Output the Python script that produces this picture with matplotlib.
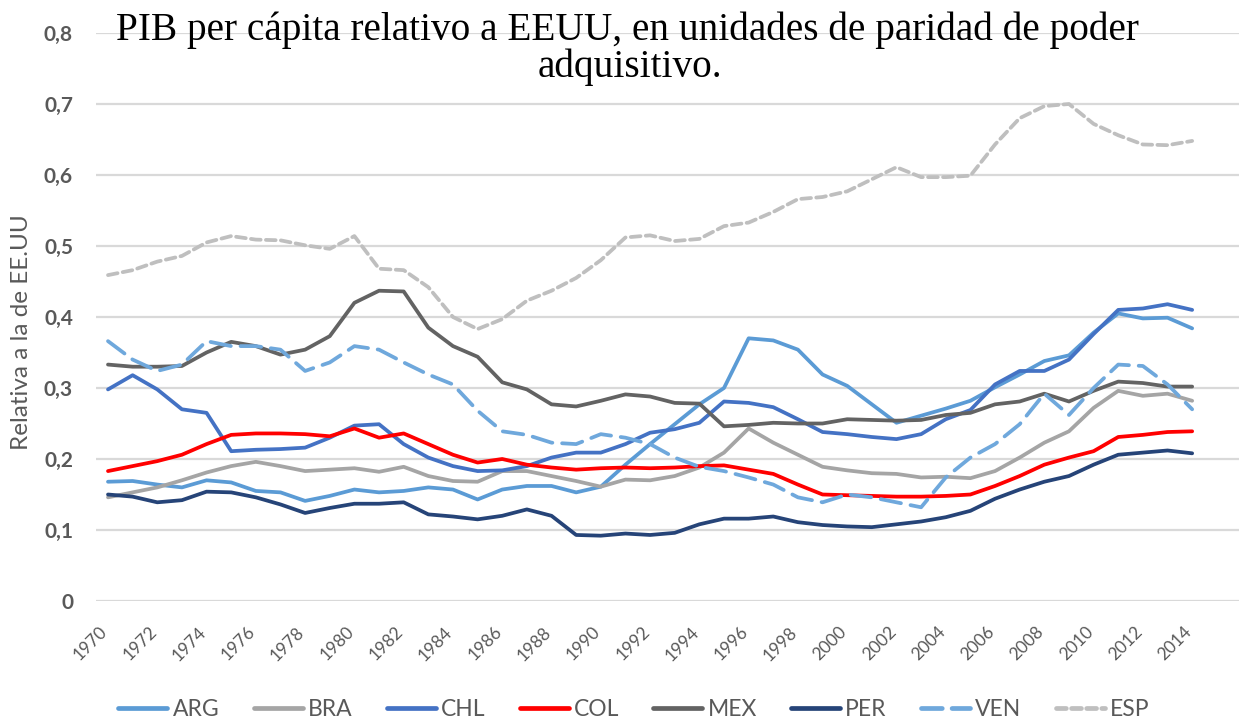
import matplotlib
matplotlib.use("Agg")
import matplotlib.pyplot as plt
import matplotlib.transforms as mtransforms
from matplotlib.lines import Line2D

years = list(range(1970, 2015))

ARG = [0.168, 0.169, 0.164, 0.160, 0.170, 0.167, 0.155, 0.153, 0.141, 0.148,
       0.157, 0.153, 0.155, 0.160, 0.157, 0.143, 0.157, 0.162, 0.162, 0.153,
       0.161, 0.192, 0.221, 0.249, 0.277, 0.300, 0.370, 0.367, 0.354, 0.319,
       0.303, 0.277, 0.251, 0.261, 0.271, 0.282, 0.301, 0.319, 0.338, 0.346,
       0.378, 0.405, 0.398, 0.399, 0.384]
BRA = [0.146, 0.153, 0.160, 0.170, 0.181, 0.190, 0.196, 0.190, 0.183, 0.185,
       0.187, 0.182, 0.189, 0.176, 0.169, 0.168, 0.183, 0.183, 0.176, 0.169,
       0.161, 0.171, 0.170, 0.176, 0.188, 0.209, 0.243, 0.223, 0.206, 0.189,
       0.184, 0.180, 0.179, 0.174, 0.175, 0.173, 0.183, 0.202, 0.223, 0.239,
       0.272, 0.296, 0.289, 0.292, 0.282]
CHL = [0.298, 0.318, 0.298, 0.270, 0.265, 0.211, 0.213, 0.214, 0.216, 0.230,
       0.247, 0.249, 0.221, 0.202, 0.190, 0.183, 0.184, 0.190, 0.202, 0.209,
       0.209, 0.221, 0.237, 0.242, 0.251, 0.281, 0.279, 0.273, 0.256, 0.238,
       0.235, 0.231, 0.228, 0.235, 0.256, 0.269, 0.305, 0.324, 0.324, 0.340,
       0.376, 0.410, 0.412, 0.418, 0.410]
COL = [0.183, 0.190, 0.197, 0.206, 0.221, 0.234, 0.236, 0.236, 0.235, 0.232,
       0.243, 0.230, 0.236, 0.221, 0.206, 0.195, 0.200, 0.192, 0.188, 0.185,
       0.187, 0.188, 0.187, 0.188, 0.190, 0.191, 0.185, 0.179, 0.164, 0.150,
       0.149, 0.148, 0.147, 0.147, 0.148, 0.150, 0.162, 0.176, 0.192, 0.202,
       0.211, 0.231, 0.234, 0.238, 0.239]
MEX = [0.333, 0.330, 0.330, 0.331, 0.350, 0.365, 0.359, 0.347, 0.354, 0.373,
       0.420, 0.437, 0.436, 0.385, 0.359, 0.344, 0.308, 0.298, 0.277, 0.274,
       0.282, 0.291, 0.288, 0.279, 0.278, 0.246, 0.248, 0.251, 0.250, 0.250,
       0.256, 0.255, 0.254, 0.255, 0.262, 0.265, 0.277, 0.281, 0.292, 0.281,
       0.296, 0.309, 0.307, 0.302, 0.302]
PER = [0.150, 0.147, 0.139, 0.142, 0.154, 0.153, 0.146, 0.136, 0.124, 0.131,
       0.137, 0.137, 0.139, 0.122, 0.119, 0.115, 0.120, 0.129, 0.120, 0.093,
       0.092, 0.095, 0.093, 0.096, 0.108, 0.116, 0.116, 0.119, 0.111, 0.107,
       0.105, 0.104, 0.108, 0.112, 0.118, 0.127, 0.144, 0.157, 0.168, 0.176,
       0.192, 0.206, 0.209, 0.212, 0.208]
VEN = [0.366, 0.340, 0.324, 0.333, 0.366, 0.359, 0.359, 0.354, 0.324, 0.336,
       0.359, 0.354, 0.336, 0.319, 0.305, 0.268, 0.239, 0.234, 0.223, 0.221,
       0.235, 0.230, 0.221, 0.202, 0.189, 0.183, 0.174, 0.164, 0.146, 0.139,
       0.150, 0.146, 0.139, 0.132, 0.174, 0.202, 0.221, 0.249, 0.292, 0.262,
       0.300, 0.333, 0.331, 0.305, 0.270]
ESP = [0.459, 0.466, 0.478, 0.486, 0.505, 0.514, 0.509, 0.508, 0.501, 0.496,
       0.514, 0.468, 0.466, 0.442, 0.400, 0.383, 0.397, 0.423, 0.437, 0.455,
       0.480, 0.512, 0.515, 0.507, 0.510, 0.528, 0.533, 0.548, 0.566, 0.569,
       0.577, 0.594, 0.611, 0.597, 0.597, 0.599, 0.643, 0.680, 0.697, 0.700,
       0.672, 0.656, 0.643, 0.642, 0.648]

series_names = ["ARG", "BRA", "CHL", "COL", "MEX", "PER", "VEN", "ESP"]
series_data = [ARG, BRA, CHL, COL, MEX, PER, VEN, ESP]
colors = ["#5B9BD5", "#A5A5A5", "#4472C4", "#FF0000", "#636363", "#264478",
          "#6FA8DC", "#BFBFBF"]
dash_styles = [None, None, None, None, None, None, (5.5, 2.6), (2.6, 1.4)]

title_line1 = "PIB per cápita relativo a EEUU, en unidades de paridad de poder"
title_line2 = "adquisitivo."
ylabel = "Relativa a la de EE.UU"
yticks = [0, 0.1, 0.2, 0.3, 0.4, 0.5, 0.6, 0.7, 0.8]
ytick_labels = ["0", "0,1", "0,2", "0,3", "0,4", "0,5", "0,6", "0,7", "0,8"]
xticks = list(range(1970, 2015, 2))

GRAY = "#595959"
W, H = 1239, 722
fig = plt.figure(figsize=(W / 100, H / 100), dpi=100)
# axes: left edge at x=96, right at 1239; y=0 at 601, y=0.8 at 33
ax = fig.add_axes([96 / W, 1 - 601 / H, (W - 96) / W, (601 - 33) / H])

lw = 2.7
for name, data, c, ds in zip(series_names, series_data, colors, dash_styles):
    line, = ax.plot(years, data, color=c, lw=lw, label=name,
                    solid_capstyle="round", dash_capstyle="round",
                    solid_joinstyle="round")
    if ds is not None:
        line.set_dashes(ds)

px_per_year = 24.64
ax.set_xlim(1970 - 12 / px_per_year, 1970 + (W - 108) / px_per_year)
ax.set_ylim(0, 0.8)
ax.set_yticks(yticks)
ax.set_yticklabels(ytick_labels)
ax.set_xticks(xticks)
ax.set_xticklabels([str(x) for x in xticks], rotation=45, ha="right",
                   va="center", rotation_mode="anchor")
ax.grid(axis="y", color="#D9D9D9", lw=1.6)
ax.set_axisbelow(True)
for s in ax.spines.values():
    s.set_visible(False)
ax.tick_params(axis="both", length=0)
ax.tick_params(axis="y", pad=16.5, labelsize=15, labelcolor=GRAY)
ax.tick_params(axis="x", pad=20.5, labelsize=12.5, labelcolor=GRAY)
for t in ax.get_yticklabels():
    t.set_fontfamily("Lato")
    t.set_fontweight("bold")
offset = mtransforms.ScaledTranslation(-3 / 100, 0, fig.dpi_scale_trans)
for t in ax.get_xticklabels():
    t.set_fontfamily("Lato")
    t.set_transform(t.get_transform() + offset)

fig.text(22 / W, 1 - 332 / H, ylabel, rotation=90, ha="center", va="center",
         fontsize=17.5, color=GRAY, family="Lato")

fig.text(627.5 / W, 1 - 40 / H, title_line1, ha="center", va="baseline",
         fontsize=28.3, family="Liberation Serif", color="black")
fig.text(630 / W, 1 - 77 / H, title_line2, ha="center", va="baseline",
         fontsize=28.3, family="Liberation Serif", color="black")

handles = []
for name, c, ds in zip(series_names, colors, dash_styles):
    h = Line2D([0], [0], color=c, lw=3.4, solid_capstyle="round",
               dash_capstyle="round")
    if ds is not None:
        h.set_dashes((ds[0] * 0.8, ds[1] * 0.8))
    handles.append(h)
leg = fig.legend(handles, series_names, loc="center", ncol=8,
                 bbox_to_anchor=(634 / W, 1 - 710 / H), frameon=False,
                 handlelength=2.14, handletextpad=0.22, columnspacing=1.5,
                 borderpad=0, prop={"family": "Lato", "size": 16.5})
for t in leg.get_texts():
    t.set_color(GRAY)

fig.savefig("out.png", dpi=100)
